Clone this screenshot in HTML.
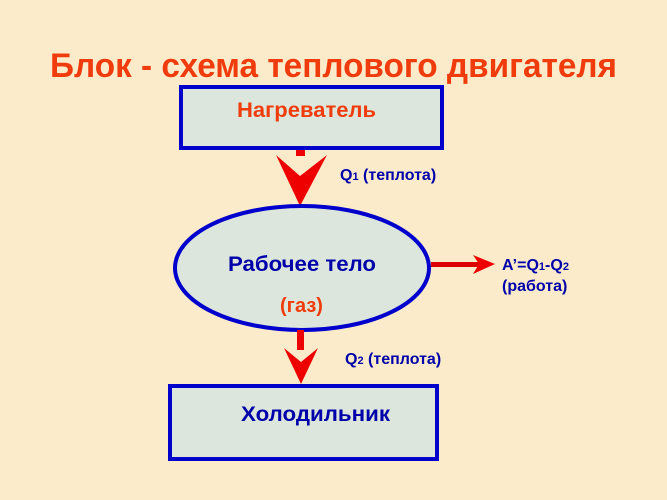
<!DOCTYPE html>
<html><head><meta charset="utf-8"><style>
html,body{margin:0;padding:0;background:#fbeccb}
svg{display:block}
</style></head><body>
<svg width="667" height="500" viewBox="0 0 667 500" xmlns="http://www.w3.org/2000/svg" font-family="Liberation Sans, sans-serif" font-weight="bold">
<rect width="667" height="500" fill="#fbebcb"/>
<text x="50" y="77" font-size="34" fill="#f03c0c" textLength="567" lengthAdjust="spacingAndGlyphs">Блок - схема теплового двигателя</text>
<rect x="181" y="87" width="261" height="61" fill="#dde6dc" stroke="#0000cc" stroke-width="4"/>
<text x="237" y="117" font-size="21" fill="#f03c0c" textLength="139" lengthAdjust="spacingAndGlyphs">Нагреватель</text>
<rect x="296" y="150" width="9" height="6" fill="#ee0000"/>
<polygon points="276,155 300,176 327,155 300,206" fill="#ee0000"/>
<text x="340" y="180" font-size="16" fill="#0000aa">Q<tspan font-size="11">1</tspan> (теплота)</text>
<ellipse cx="302" cy="268" rx="127" ry="62" fill="#dde6dc" stroke="#0000cc" stroke-width="4"/>
<text x="228" y="271" font-size="21" fill="#0000aa" textLength="148" lengthAdjust="spacingAndGlyphs">Рабочее тело</text>
<text x="280" y="312" font-size="20" fill="#f03c0c">(газ)</text>
<rect x="431" y="262" width="48" height="5" fill="#dd0000"/>
<polygon points="473,255 495,264 473,274 479,264" fill="#ee0000"/>
<text x="502" y="270" font-size="16" fill="#0000aa">A’=Q<tspan font-size="11">1</tspan>-Q<tspan font-size="11">2</tspan></text>
<text x="502" y="291" font-size="16" fill="#0000aa">(работа)</text>
<rect x="297" y="330" width="7" height="20" fill="#ee0000"/>
<polygon points="284,348 301,362 318,348 301,384" fill="#ee0000"/>
<text x="345" y="364" font-size="16" fill="#0000aa">Q<tspan font-size="11">2</tspan> (теплота)</text>
<rect x="170" y="386" width="267" height="73" fill="#dde6dc" stroke="#0000cc" stroke-width="4"/>
<text x="241" y="421" font-size="21" fill="#0000aa" textLength="149" lengthAdjust="spacingAndGlyphs">Холодильник</text>
</svg>
</body></html>
